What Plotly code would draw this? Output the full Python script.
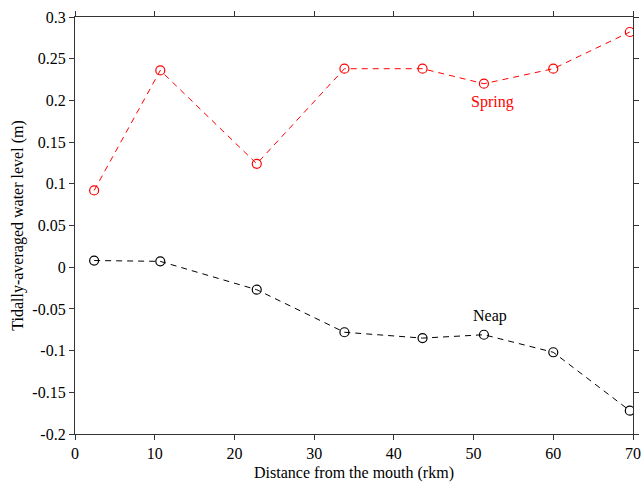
import plotly.graph_objects as go

distance = [2.4, 10.7, 22.8, 33.8, 43.6, 51.3, 60.0, 69.6]
spring = [0.092, 0.236, 0.124, 0.238, 0.238, 0.220, 0.238, 0.282]
neap = [0.008, 0.007, -0.027, -0.078, -0.085, -0.081, -0.102, -0.172]

x_ticks = [0, 10, 20, 30, 40, 50, 60, 70]
y_ticks = [-0.2, -0.15, -0.1, -0.05, 0, 0.05, 0.1, 0.15, 0.2, 0.25, 0.3]
y_ticktext = ["-0.2", "-0.15", "-0.1", "-0.05", "0", "0.05", "0.1", "0.15", "0.2", "0.25", "0.3"]

font = "'Liberation Serif', 'Times New Roman', serif"

fig = go.Figure()
fig.add_trace(go.Scatter(
    x=distance, y=spring, mode="lines+markers", name="Spring",
    line=dict(color="red", width=1, dash="6px,5px"),
    marker=dict(symbol="circle-open", size=9, color="red", line=dict(width=1.2)),
))
fig.add_trace(go.Scatter(
    x=distance, y=neap, mode="lines+markers", name="Neap",
    line=dict(color="black", width=1, dash="6px,5px"),
    marker=dict(symbol="circle-open", size=9, color="black", line=dict(width=1.2)),
))

fig.add_annotation(x=52.4, y=0.198, text="Spring", showarrow=False,
                   font=dict(family=font, size=16, color="red"))
fig.add_annotation(x=52.0, y=-0.059, text="Neap", showarrow=False,
                   font=dict(family=font, size=16, color="black"))

axis_common = dict(showline=True, linecolor="#333", linewidth=1.3, mirror="ticks",
                   ticks="outside", ticklen=5, tickcolor="#333", tickwidth=1.2,
                   showgrid=False, zeroline=False, automargin=False,
                   tickfont=dict(family=font, size=16, color="black"))

fig.update_xaxes(range=[0, 70], tickvals=x_ticks,
                 title=dict(text="Distance from the mouth (rkm)", standoff=5,
                            font=dict(family=font, size=16, color="black")),
                 **axis_common)
fig.update_yaxes(range=[-0.2, 0.3], tickvals=y_ticks, ticktext=y_ticktext,
                 title=dict(text="Tidally-averaged water level (m)", standoff=4,
                            font=dict(family=font, size=16, color="black")),
                 **axis_common)

fig.update_layout(width=641, height=484, showlegend=False,
                  margin=dict(l=75, r=8, t=17, b=50),
                  plot_bgcolor="white", paper_bgcolor="white")

fig.write_html("out.html")
